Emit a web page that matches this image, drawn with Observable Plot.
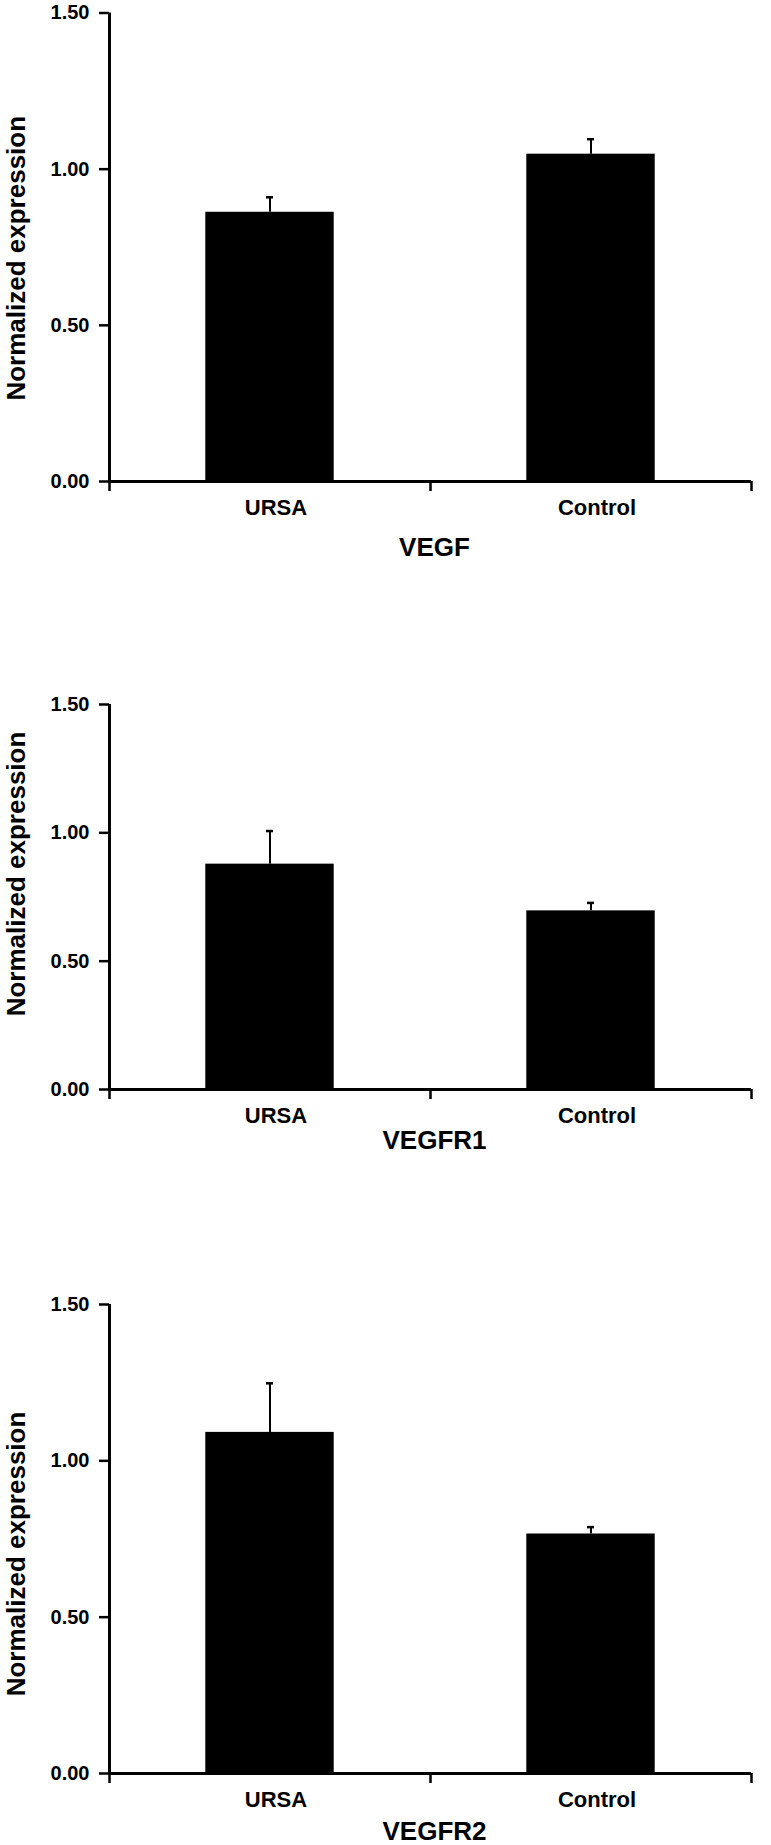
<!DOCTYPE html>
<html>
<head>
<meta charset="utf-8">
<script src="https://cdn.jsdelivr.net/npm/d3@7"></script>
<script src="https://cdn.jsdelivr.net/npm/@observablehq/plot@0.6"></script>
<style>
  html, body { margin: 0; padding: 0; background: #fff; }
  #chart svg { display: block; }
</style>
</head>
<body>
<div id="chart"></div>
<script>
// ---- data ----
const genes = ["VEGF", "VEGFR1", "VEGFR2"];
const groups = ["URSA", "Control"];
const meansVEGF   = [0.862, 1.048];
const errVEGF     = [0.048, 0.048];
const meansVEGFR1 = [0.878, 0.696];
const errVEGFR1   = [0.129, 0.031];
const meansVEGFR2 = [1.091, 0.766];
const errVEGFR2   = [0.157, 0.022];
const yTicks = [0, 0.5, 1.0, 1.5];
const yLabel = "Normalized expression";

const means = [meansVEGF, meansVEGFR1, meansVEGFR2];
const errs = [errVEGF, errVEGFR1, errVEGFR2];

// ---- layout (not data) ----
const layout = [
  {height: 640, top: 12.5, bottom: 159, geneDy: 74, titleDy: 11},
  {height: 590, top: 64,   bottom: 141, geneDy: 59, titleDy: -23},
  {height: 615, top: 74,   bottom: 72,  geneDy: 66, titleDy: 15}
];

const container = document.getElementById("chart");
const font = "'Liberation Sans', Arial, Helvetica, sans-serif";

genes.forEach((gene, k) => {
  const L = layout[k];
  const rows = groups.map((g, i) => ({group: g, i, value: means[k][i], err: errs[k][i]}));
  const chart = Plot.plot({
    width: 771,
    height: L.height,
    marginLeft: 109,
    marginRight: 20,
    marginTop: L.top,
    marginBottom: L.bottom,
    style: {fontFamily: font, fontWeight: "bold", fontSize: "20px", color: "black", background: "white", overflow: "visible"},
    x: {domain: [0, groups.length], axis: null},
    y: {domain: [0, 1.5], axis: null},
    marks: [
      Plot.rectY(rows, {x1: d => d.i + 0.3, x2: d => d.i + 0.7, y1: 0, y2: "value", fill: "black"}),
      Plot.ruleX(rows, {x: d => d.i + 0.5, y1: "value", y2: d => d.value + d.err, stroke: "black", strokeWidth: 2}),
      Plot.ruleY(rows, {y: d => d.value + d.err, x1: d => d.i + 0.489, x2: d => d.i + 0.511, stroke: "black", strokeWidth: 2.5}),
      Plot.axisY({ticks: yTicks, tickFormat: d3.format(".2f"), tickSize: 10, tickPadding: 10, strokeWidth: 2.5, label: null, fontSize: 20, fontWeight: "bold"}),
      Plot.axisX({ticks: d3.range(groups.length + 1), tickSize: 10, tickFormat: () => "", strokeWidth: 2.5, label: null}),
      Plot.ruleX([0], {y1: 0, y2: 1.5, stroke: "black", strokeWidth: 3}),
      Plot.ruleY([0], {stroke: "black", strokeWidth: 3}),
      Plot.text(rows, {x: d => d.i + 0.5, y: 0, text: "group", dy: 33, dx: 6, lineAnchor: "bottom", fontSize: 22, fontWeight: "bold"}),
      Plot.text([gene], {x: groups.length / 2, y: 0, text: d => d, dy: L.geneDy, dx: 4, lineAnchor: "bottom", fontSize: 26, fontWeight: "bold"}),
      Plot.text([yLabel], {frameAnchor: "left", textAnchor: "middle", text: d => d, rotate: -90, dx: -93, dy: L.titleDy, fontSize: 26, fontWeight: "bold"})
    ]
  });
  container.appendChild(chart);
});
</script>
</body>
</html>
